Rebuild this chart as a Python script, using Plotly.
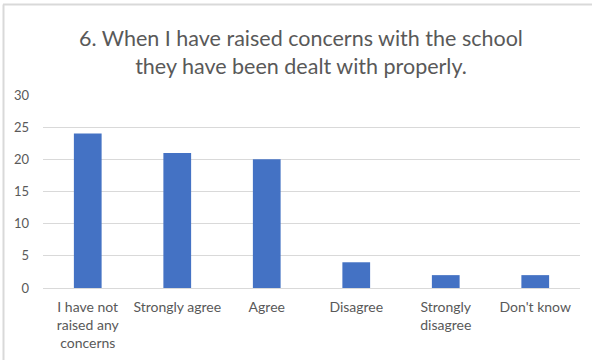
import plotly.graph_objects as go

categories = ["I have not<br>raised any<br>concerns", "Strongly agree", "Agree",
              "Disagree", "Strongly<br>disagree", "Don't know"]
values = [24, 21, 20, 4, 2, 2]
y_ticks = [0, 5, 10, 15, 20, 25, 30]
title_text = "6. When I have raised concerns with the school<br>they have been dealt with properly."

fig = go.Figure()
fig.add_trace(go.Bar(x=categories, y=values, marker=dict(color="#4472C4", line=dict(width=0)),
                     hoverinfo="x+y"))

fig.update_layout(
    width=592, height=360,
    margin=dict(l=43, r=12, t=95, b=72, autoexpand=False),
    paper_bgcolor="white", plot_bgcolor="white",
    bargap=0.69,
    showlegend=False,
    font=dict(family="Lato, Calibri, sans-serif", color="#595959", size=13),
    title=dict(text=title_text, x=301/592, xanchor="center", xref="container",
               y=1 - 46/360, yanchor="top", yref="container",
               font=dict(family="Lato, Calibri, sans-serif", size=21.5, color="#595959")),
    xaxis=dict(showgrid=False, showline=False, ticks="", zeroline=False,
               tickfont=dict(size=14, color="#595959"), ticklabelstandoff=9),
    yaxis=dict(range=[0, 30], tickvals=y_ticks, showgrid=True, gridcolor="#d9d9d9",
               gridwidth=1, zeroline=True, zerolinecolor="#d9d9d9", zerolinewidth=1,
               showline=False, ticks="", tickfont=dict(size=13, color="#595959"),
               ticklabelstandoff=13),
    shapes=[
        dict(type="line", xref="paper", yref="paper", x0=-40/537, x1=1 + 12/537,
             y0=1 + 90.5/193, y1=1 + 90.5/193, line=dict(color="#d9d9d9", width=2)),
        dict(type="line", xref="paper", yref="paper", x0=-39.5/537, x1=-39.5/537,
             y0=1 + 90.5/193, y1=-72/193, line=dict(color="#d9d9d9", width=2)),
    ],
)

fig.write_html("out.html", config={"displayModeBar": False},
               post_script="document.body.style.margin='0';document.body.style.padding='0';")
